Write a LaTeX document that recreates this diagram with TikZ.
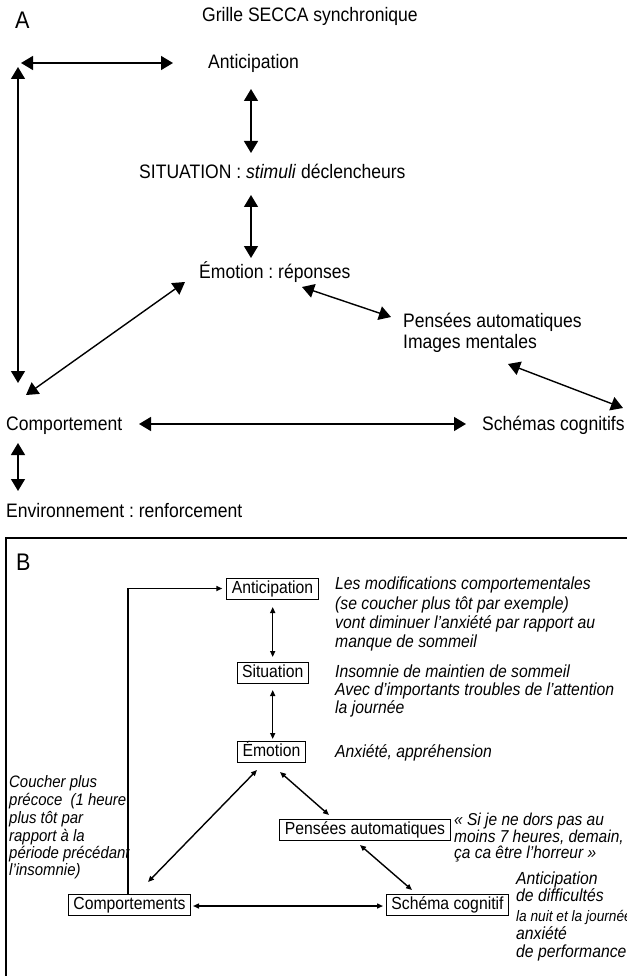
\documentclass[tikz,border=0pt]{standalone}
\usepackage{fontspec}
\setmainfont{Liberation Sans}[FakeStretch=0.9]
\usetikzlibrary{arrows.meta}
\frenchspacing
\newcommand\szLbl{\fontsize{24pt}{26pt}\selectfont}
\newcommand\szA{\fontsize{19.5pt}{21pt}\selectfont}
\newcommand\szB{\fontsize{17.5pt}{19pt}\selectfont}
\newcommand\szBi{\fontsize{17.5pt}{19pt}\selectfont\itshape}
\newcommand\szQi{\fontsize{17.2pt}{19pt}\selectfont\itshape}
\newcommand\szLi{\fontsize{16.6pt}{18pt}\selectfont\itshape}
\newcommand\szSi{\fontsize{15.2pt}{16pt}\selectfont\itshape}
\begin{document}
\begin{tikzpicture}[x=1pt,y=-1pt,
  txtA/.style={anchor=base west, inner sep=0pt, font=\szA},
  lbl/.style={anchor=base west, inner sep=0pt, font=\szLbl},
  txtB/.style={anchor=base west, inner sep=0pt, font=\szBi},
  txtL/.style={anchor=base west, inner sep=0pt, font=\szLi},
  boxB/.style={draw, line width=1pt, font=\szB, inner xsep=5pt, inner ysep=2.5pt,
    text height=12.5pt, text depth=3.5pt},
  bigarr/.style={line width=1.4pt, {Triangle[length=12pt,width=14pt]}-{Triangle[length=12pt,width=14pt]}},
  smallarr/.style={line width=1.4pt, {Triangle[length=6pt,width=5pt]}-{Triangle[length=6pt,width=5pt]}},
  onearr/.style={line width=1.8pt, -{Triangle[length=6pt,width=5pt]}},
  frameB/.style={line width=1.4pt}
]
\useasboundingbox (0,0) rectangle (626,976);

% ---------------- Panel A ----------------
\node[lbl] (lblA) at (15,29) {A};
\node[txtA] (title) at (202,22) {Grille SECCA synchronique};
\node[txtA] (antA) at (208,69) {Anticipation};
\node[txtA] (sitA) at (139,179) {SITUATION : \textit{stimuli} déclencheurs};
\node[txtA] (emoA) at (199,278) {Émotion : réponses};
\node[txtA] (pensA) at (403,327) {Pensées automatiques};
\node[txtA] (imgA) at (403,348) {Images mentales};
\node[txtA] (compA) at (6,430) {Comportement};
\node[txtA] (schA) at (482,430) {Schémas cognitifs};
\node[txtA] (envA) at (6,517) {Environnement : renforcement};

\coordinate (h1) at (21,63);   \coordinate (h2) at (173,63);
\coordinate (v1) at (18,67);   \coordinate (v2) at (18,383);
\coordinate (as1) at (251,89); \coordinate (as2) at (251,153);
\coordinate (se1) at (251,195); \coordinate (se2) at (251,258);
\coordinate (ec1) at (185,282); \coordinate (ec2) at (26,395);
\coordinate (ep1) at (302,287); \coordinate (ep2) at (391,317);
\coordinate (ps1) at (508,364); \coordinate (ps2) at (623,408);
\coordinate (cs1) at (139,424); \coordinate (cs2) at (466,424);
\coordinate (ce1) at (18,443); \coordinate (ce2) at (18,491);

\draw[bigarr] (h1) -- (h2);
\draw[bigarr] (v1) -- (v2);
\draw[bigarr] (as1) -- (as2);
\draw[bigarr] (se1) -- (se2);
\draw[bigarr] (ec1) -- (ec2);
\draw[bigarr] (ep1) -- (ep2);
\draw[bigarr] (ps1) -- (ps2);
\draw[bigarr] (cs1) -- (cs2);
\draw[bigarr] (ce1) -- (ce2);

% ---------------- Panel B ----------------
\draw[frameB] (6,538) rectangle (660,1000);
\node[lbl] (lblB) at (16,570) {B};

\node[boxB] (antB) at (272.5,588.5) {Anticipation};
\node[boxB] (sitB) at (272.7,673) {Situation};
\node[boxB] (emoB) at (271.5,752) {Émotion};
\node[boxB] (pensB) at (365,830) {Pensées automatiques};
\node[boxB] (compB) at (129.5,904.5) {Comportements};
\node[boxB] (schB) at (447.5,904.5) {Schéma cognitif};

\node[txtB] (ra1) at (335,589) {Les modifications comportementales};
\node[txtB] (ra2) at (335,609) {(se coucher plus tôt par exemple)};
\node[txtB] (ra3) at (335,628) {vont diminuer l’anxiété par rapport au};
\node[txtB] (ra4) at (335,647) {manque de sommeil};
\node[txtB] (rs1) at (335,677) {Insomnie de maintien de sommeil};
\node[txtB] (rs2) at (335,695) {Avec d’importants troubles de l’attention};
\node[txtB] (rs3) at (335,713) {la journée};
\node[txtB] (re1) at (335,757) {Anxiété, appréhension};
\node[txtB, font=\szQi] (rq1) at (454,825) {« Si je ne dors pas au};
\node[txtB, font=\szQi] (rq2) at (454,842) {moins 7 heures, demain,};
\node[txtB, font=\szQi] (rq3) at (454,858) {ça ca être l’horreur »};

\node[txtL] (l1) at (9,787) {Coucher plus};
\node[txtL] (l2) at (9,805) {précoce\ \ (1 heure};
\node[txtL] (l3) at (9,823) {plus tôt par};
\node[txtL] (l4) at (9,841) {rapport à la};
\node[txtL] (l5) at (9,858) {période précédant};
\node[txtL] (l6) at (9,875) {l’insomnie)};

\node[txtB] (rc1) at (516,884) {Anticipation};
\node[txtB] (rc2) at (516,901) {de difficultés};
\node[txtB, font=\szSi] (rc3) at (516,921) {la nuit et la journée};
\node[txtB] (rc4) at (516,939) {anxiété};
\node[txtB] (rc5) at (516,957) {de performance};

\coordinate (bas1) at (272.7,607); \coordinate (bas2) at (272.7,657);
\coordinate (bse1) at (272.7,690); \coordinate (bse2) at (272.7,739);
\coordinate (bep1) at (280,772); \coordinate (bep2) at (329,815);
\coordinate (bec1) at (257,770); \coordinate (bec2) at (148,882);
\coordinate (bps1) at (360,845); \coordinate (bps2) at (412,890);
\coordinate (bcs1) at (193,906); \coordinate (bcs2) at (383,906);

\draw[smallarr] (bas1) -- (bas2);
\draw[smallarr] (bse1) -- (bse2);
\draw[smallarr] (bep1) -- (bep2);
\draw[smallarr] (bec1) -- (bec2);
\draw[smallarr] (bps1) -- (bps2);
\draw[smallarr] (bcs1) -- (bcs2);
\draw[onearr] ([xshift=-1.5pt]compB.north) |- ([xshift=-4pt]antB.west);
\end{tikzpicture}
\end{document}
